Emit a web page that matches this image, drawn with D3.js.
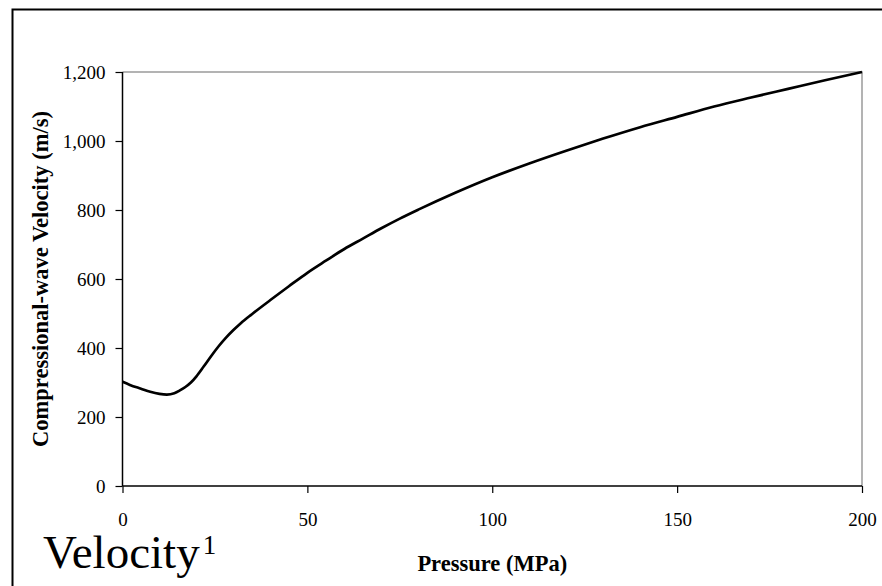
<!DOCTYPE html>
<html>
<head>
<meta charset="utf-8">
<script src="https://cdn.jsdelivr.net/npm/d3@7"></script>
<style>
  body { margin: 0; background: #fff; }
  svg { display: block; }
</style>
</head>
<body>
<div id="chart"></div>
<script>
// pressure (MPa) and compressional-wave velocity (m/s)
const pressure = [0, 2, 5, 7.5, 10, 12, 14, 15.5, 17, 18.5, 20, 22, 24, 26, 28, 30, 32, 35, 40, 45, 50,
    55, 60, 65, 70, 75, 80, 90, 100, 110, 120, 130, 140, 150, 160, 170, 180, 190, 200];
const velocity = [302, 293, 282, 273, 267, 265, 269, 277, 287, 300, 318, 347, 377, 405, 430, 452, 472, 498, 539, 579, 618,
    653, 687, 717, 747, 775, 801, 850, 895, 935, 972, 1007, 1040, 1070, 1100, 1126, 1151, 1176, 1200];
const xTicks = [0, 50, 100, 150, 200];
const yTicks = [0, 200, 400, 600, 800, 1000, 1200];

const width = 882;
const height = 586;
const marginLeft = 122.5;
const marginRight = 20;
const marginTop = 72;
const marginBottom = 100;
const font = "'Times New Roman', 'Liberation Serif', serif";

const x = d3.scaleLinear()
    .domain([0, 200])
    .range([marginLeft, width - marginRight]);

const y = d3.scaleLinear()
    .domain([0, 1200])
    .range([height - marginBottom, marginTop]);

const svg = d3.select("#chart").append("svg")
    .attr("width", width)
    .attr("height", height)
    .attr("font-family", font);

// outer frame, runs off the right and bottom edges
svg.append("rect")
    .attr("x", 12.5)
    .attr("y", 9.5)
    .attr("width", 900)
    .attr("height", 600)
    .attr("fill", "none")
    .attr("stroke", "#000")
    .attr("stroke-width", 2);

// plot area top and right border
svg.append("path")
    .attr("d", `M${x(0)},${y(1200)}H${x(200)}V${y(0)}`)
    .attr("fill", "none")
    .attr("stroke", "#9a9a9a")
    .attr("stroke-width", 1.5);

svg.append("g")
    .attr("transform", `translate(0,${y(0)})`)
    .call(d3.axisBottom(x).tickValues(xTicks).tickSize(7).tickPadding(20).tickFormat(d3.format("d")))
    .call(g => g.select(".domain").attr("d", `M${x(0)},0H${x(200)}`).attr("stroke-width", 1.5))
    .call(g => g.selectAll(".tick line").attr("stroke-width", 1.2))
    .call(g => g.selectAll(".tick text").attr("font-family", font).attr("font-size", 19).attr("fill", "#000"));

svg.append("g")
    .attr("transform", `translate(${x(0)},0)`)
    .call(d3.axisLeft(y).tickValues(yTicks).tickSize(7).tickPadding(10).tickFormat(d3.format(",")))
    .call(g => g.select(".domain").attr("d", `M0,${y(0)}V${y(1200)}`).attr("stroke-width", 1.5))
    .call(g => g.selectAll(".tick line").attr("stroke-width", 1.2))
    .call(g => g.selectAll(".tick text").attr("font-family", font).attr("font-size", 19).attr("fill", "#000"));

const line = d3.line()
    .x((d, i) => x(pressure[i]))
    .y(d => y(d))
    .curve(d3.curveMonotoneX);

svg.append("path")
    .datum(velocity)
    .attr("d", line)
    .attr("fill", "none")
    .attr("stroke", "#000")
    .attr("stroke-width", 2.7)
    .attr("stroke-linejoin", "round");

svg.append("text")
    .attr("x", (x(0) + x(200)) / 2)
    .attr("y", 571)
    .attr("text-anchor", "middle")
    .attr("font-size", 22.5)
    .attr("font-weight", "bold")
    .text("Pressure (MPa)");

svg.append("text")
    .attr("transform", `translate(48,${(y(0) + y(1200)) / 2}) rotate(-90)`)
    .attr("text-anchor", "middle")
    .attr("font-size", 22.5)
    .attr("font-weight", "bold")
    .text("Compressional-wave Velocity (m/s)");

const note = svg.append("text")
    .attr("x", 43)
    .attr("y", 568)
    .attr("font-size", 47);
note.append("tspan").text("Velocity");
note.append("tspan")
    .attr("font-size", 27)
    .attr("dx", 3)
    .attr("dy", -14)
    .text("1");
</script>
</body>
</html>
